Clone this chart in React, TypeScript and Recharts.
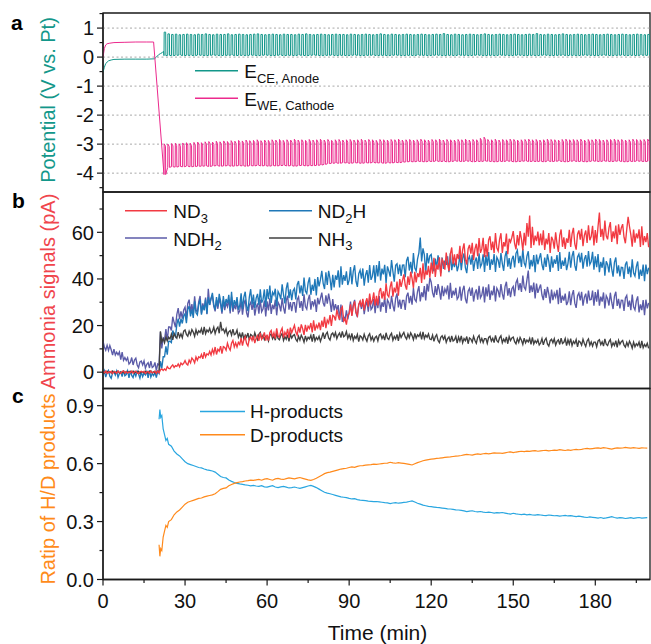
import React from 'react';
import { LineChart, Line, XAxis, YAxis, ReferenceLine, ReferenceArea } from 'recharts';

const FONT = '"Liberation Sans", Arial, Helvetica, sans-serif';
const AXIS = '#1a1a1a';

// ---------- Panel a : potentials ----------
const ecePreT = [0, 0.5, 1, 2, 3, 4, 8, 12, 16, 18.8, 19.5, 20.3, 21, 21.6, 22.1];
const ecePreV = [-0.52, -0.35, -0.22, -0.13, -0.1, -0.08, -0.07, -0.07, -0.07, -0.06, 0.0, 0.08, 0.12, 0.15, 0.2];
const ewePreT = [0, 0.5, 1, 1.5, 2.5, 4, 8, 12, 16, 18.5];
const ewePreV = [0.0, 0.3, 0.42, 0.46, 0.48, 0.5, 0.51, 0.52, 0.52, 0.52];
const cycleStart = 22.3;
const cyclePeriod = 1.36;
const eceHigh = [
  0.86, 0.80, 0.78, 0.79, 0.77, 0.78, 0.79, 0.78, 0.77, 0.79,
  0.78, 0.80, 0.78, 0.77, 0.79, 0.78, 0.78, 0.80, 0.77, 0.78,
  0.79, 0.78, 0.77, 0.78, 0.79, 0.80, 0.78, 0.77, 0.78, 0.79,
  0.78, 0.77, 0.79, 0.78, 0.78, 0.77, 0.79, 0.78, 0.80, 0.78,
  0.77, 0.78, 0.79, 0.78, 0.77, 0.78, 0.79, 0.78, 0.78, 0.77,
  0.79, 0.78, 0.77, 0.78, 0.79, 0.78, 0.77, 0.78, 0.80, 0.78,
  0.77, 0.79, 0.78, 0.77, 0.78, 0.79, 0.78, 0.77, 0.78, 0.79,
  0.78, 0.77, 0.78, 0.79, 0.78, 0.81, 0.78, 0.77, 0.79, 0.78,
  0.77, 0.78, 0.79, 0.78, 0.77, 0.78, 0.80, 0.78, 0.77, 0.78,
  0.79, 0.78, 0.77, 0.78, 0.79, 0.78, 0.77, 0.78, 0.79, 0.78,
  0.81, 0.78, 0.77, 0.79, 0.78, 0.77, 0.78, 0.80, 0.78, 0.77,
  0.78, 0.79, 0.78, 0.77, 0.78, 0.79, 0.78, 0.77, 0.78, 0.79,
  0.78, 0.77, 0.78, 0.79, 0.78, 0.77, 0.78, 0.79, 0.78, 0.77, 0.78,
];
const eceLow = [
  0.05, 0.06, 0.05, 0.06, 0.07, 0.05, 0.06, 0.06, 0.05, 0.07,
  0.06, 0.05, 0.06, 0.07, 0.06, 0.05, 0.06, 0.06, 0.07, 0.05,
  0.06, 0.06, 0.05, 0.07, 0.06, 0.05, 0.06, 0.07, 0.06, 0.05,
  0.06, 0.07, 0.05, 0.06, 0.06, 0.05, 0.07, 0.06, 0.05, 0.06,
  0.07, 0.06, 0.05, 0.06, 0.06, 0.07, 0.05, 0.06, 0.06, 0.05,
  0.06, 0.07, 0.06, 0.05, 0.06, 0.06, 0.07, 0.05, 0.06, 0.06,
  0.05, 0.06, 0.07, 0.06, 0.05, 0.06, 0.06, 0.05, 0.07, 0.06,
  0.06, 0.05, 0.06, 0.07, 0.06, 0.05, 0.06, 0.06, 0.05, 0.07,
  0.06, 0.06, 0.05, 0.06, 0.07, 0.06, 0.05, 0.06, 0.06, 0.05,
  0.07, 0.06, 0.06, 0.05, 0.06, 0.07, 0.06, 0.05, 0.06, 0.06,
  0.05, 0.06, 0.07, 0.06, 0.05, 0.06, 0.06, 0.07, 0.05, 0.06,
  0.06, 0.05, 0.06, 0.07, 0.06, 0.06, 0.05, 0.06, 0.07, 0.06,
  0.05, 0.06, 0.06, 0.07, 0.05, 0.06, 0.06, 0.05, 0.07, 0.06, 0.06,
];
const eweHigh = [
  -2.99, -3.0, -2.98, -2.97, -2.99, -2.96, -2.95, -2.97, -2.94, -2.93,
  -2.95, -2.92, -2.91, -2.93, -2.90, -2.92, -2.89, -2.91, -2.88, -2.90,
  -2.87, -2.89, -2.86, -2.88, -2.87, -2.85, -2.88, -2.86, -2.87, -2.85,
  -2.86, -2.84, -2.87, -2.85, -2.86, -2.83, -2.86, -2.85, -2.87, -2.84,
  -2.86, -2.85, -2.83, -2.86, -2.84, -2.87, -2.85, -2.84, -2.86, -2.85,
  -2.84, -2.86, -2.85, -2.83, -2.86, -2.84, -2.85, -2.87, -2.84, -2.85,
  -2.86, -2.84, -2.85, -2.83, -2.86, -2.85, -2.84, -2.86, -2.85, -2.83,
  -2.85, -2.86, -2.84, -2.85, -2.83, -2.86, -2.84, -2.85, -2.86, -2.84,
  -2.85, -2.83, -2.86, -2.84, -2.85, -2.80, -2.76, -2.84, -2.85, -2.83,
  -2.86, -2.84, -2.85, -2.83, -2.84, -2.86, -2.85, -2.84, -2.83, -2.85,
  -2.84, -2.86, -2.85, -2.83, -2.84, -2.85, -2.86, -2.84, -2.83, -2.85,
  -2.84, -2.85, -2.83, -2.86, -2.84, -2.85, -2.83, -2.84, -2.86, -2.85,
  -2.84, -2.83, -2.85, -2.84, -2.86, -2.85, -2.83, -2.84, -2.85, -2.84, -2.83,
];
const eweLow = [
  -4.05, -3.80, -3.78, -3.79, -3.77, -3.78, -3.76, -3.78, -3.77, -3.76,
  -3.76, -3.75, -3.77, -3.75, -3.74, -3.76, -3.75, -3.74, -3.76, -3.75,
  -3.74, -3.75, -3.76, -3.74, -3.75, -3.73, -3.75, -3.74, -3.76, -3.74,
  -3.75, -3.74, -3.73, -3.75, -3.74, -3.76, -3.74, -3.73, -3.75, -3.74,
  -3.74, -3.73, -3.72, -3.70, -3.67, -3.66, -3.65, -3.66, -3.64, -3.65,
  -3.66, -3.64, -3.65, -3.66, -3.64, -3.65, -3.63, -3.65, -3.64, -3.66,
  -3.64, -3.65, -3.63, -3.64, -3.62, -3.61, -3.60, -3.61, -3.59, -3.60,
  -3.61, -3.59, -3.60, -3.58, -3.60, -3.59, -3.61, -3.60, -3.58, -3.59,
  -3.60, -3.58, -3.59, -3.61, -3.59, -3.60, -3.58, -3.59, -3.60, -3.61,
  -3.59, -3.60, -3.58, -3.59, -3.61, -3.60, -3.59, -3.58, -3.60, -3.59,
  -3.60, -3.59, -3.61, -3.58, -3.60, -3.59, -3.58, -3.60, -3.61, -3.59,
  -3.58, -3.60, -3.59, -3.61, -3.60, -3.58, -3.59, -3.60, -3.58, -3.59,
  -3.60, -3.59, -3.58, -3.60, -3.61, -3.59, -3.60, -3.58, -3.59, -3.60, -3.59,
];
const potTicks = [-4.5, -4, -3.5, -3, -2.5, -2, -1.5, -1, -0.5, 0, 0.5, 1, 1.5];
const potLabels = ['', '-4', '', '-3', '', '-2', '', '-1', '', '0', '', '1', ''];
const potGrid = [-4, -3, -2, -1, 0, 1];

// ---------- Panel b : ammonia signals (one sample every 0.5 min, 20 samples per row = 10 min) ----------
const ampStep = 0.5;
const nd3 = [
  0.4, -0.2, 0.5, -0.5, 0.1, -0.2, 0.4, -0.6, 0.2, 0.1, -0.4, 0.5, -0.1, -0.5, 0.3, 0.6, -0.3, 0.2, -0.4, 0.1,
  -0.2, 0.5, -0.4, 0.2, 0.5, -0.3, -0.6, 0.2, 0.4, -0.1, 0.4, -0.5, 0.1, 0.3, -0.4, 0.5, -0.2, -0.1, 0.5, -0.5,
  0.5, -0.3, 1.0, 1.4, 0.7, 1.4, 0.8, 2.4, 1.6, 1.5, 2.5, 3.1, 2.0, 2.8, 2.5, 3.5, 2.3, 3.9, 3.2, 3.8,
  5.0, 3.6, 3.1, 5.2, 4.0, 6.1, 5.3, 4.0, 6.5, 5.1, 6.6, 6.2, 7.6, 5.7, 8.6, 6.5, 7.9, 7.4, 8.9, 7.4,
  9.8, 8.0, 10.8, 7.6, 9.8, 9.0, 11.2, 8.0, 11.0, 10.6, 9.4, 12.4, 10.6, 9.4, 12.4, 13.6, 10.8, 12.6, 10.8, 12.8,
  11.9, 14.6, 11.4, 14.0, 15.2, 12.3, 11.3, 14.4, 15.1, 13.6, 15.6, 12.5, 14.6, 15.7, 13.4, 16.9, 14.1, 15.0, 17.1, 13.5,
  16.1, 13.5, 17.0, 17.9, 15.0, 16.9, 14.4, 18.8, 15.6, 15.0, 17.6, 18.9, 14.8, 17.1, 15.8, 18.6, 14.7, 19.1, 16.9, 18.5,
  20.1, 17.2, 15.9, 19.4, 17.0, 20.5, 18.7, 16.0, 20.3, 17.4, 19.7, 18.7, 21.1, 17.1, 22.2, 17.8, 20.2, 19.0, 21.3, 18.0,
  22.1, 19.4, 23.7, 18.9, 22.3, 21.1, 24.5, 19.8, 24.4, 23.9, 22.2, 26.8, 24.2, 22.5, 27.0, 28.0, 22.0, 22.9, 20.4, 24.6,
  25.0, 29.1, 24.1, 28.3, 30.4, 25.7, 24.3, 29.1, 30.5, 28.0, 31.5, 26.5, 30.0, 31.7, 28.1, 33.7, 29.4, 30.7, 34.2, 28.5,
  32.8, 28.7, 34.6, 36.1, 31.6, 34.7, 31.0, 38.1, 33.2, 32.3, 36.6, 38.9, 32.4, 36.3, 34.2, 38.9, 32.8, 39.9, 36.6, 39.3,
  42.0, 37.4, 35.4, 41.1, 37.4, 43.1, 40.3, 36.1, 43.1, 38.5, 42.4, 40.8, 44.8, 38.3, 46.7, 39.8, 43.7, 41.7, 45.6, 40.5,
  47.0, 42.3, 49.1, 40.9, 46.2, 44.0, 49.3, 41.1, 48.4, 47.2, 44.0, 51.3, 46.6, 43.4, 50.7, 53.5, 46.3, 50.6, 45.9, 50.7,
  48.5, 54.2, 46.9, 52.6, 55.3, 48.5, 46.2, 52.9, 54.6, 50.8, 55.5, 48.2, 52.9, 55.1, 49.8, 57.5, 51.2, 52.9, 57.6, 49.3,
  55.0, 49.6, 56.7, 58.3, 52.4, 56.0, 51.1, 59.7, 53.3, 51.9, 57.0, 59.6, 51.2, 55.8, 53.9, 59.5, 50.6, 57.2, 55.8, 57.9,
  60.5, 55.1, 52.7, 58.8, 54.4, 60.5, 57.1, 52.2, 59.8, 54.4, 64.0, 58.1, 67.2, 53.3, 62.4, 54.5, 58.6, 56.2, 60.3, 54.4,
  59.5, 54.5, 60.9, 52.4, 57.3, 54.8, 59.7, 51.2, 58.1, 56.6, 53.0, 60.0, 55.1, 51.6, 58.7, 61.2, 53.8, 57.8, 52.9, 57.4,
  55.5, 61.1, 53.7, 59.3, 61.9, 55.0, 52.6, 59.2, 60.8, 56.9, 61.5, 54.1, 58.7, 60.8, 55.4, 63.0, 56.6, 58.2, 62.8, 54.4,
  61.0, 55.5, 62.5, 68.5, 58.0, 61.5, 56.5, 65.0, 58.5, 57.0, 61.9, 64.4, 55.9, 60.4, 57.4, 62.9, 54.9, 63.4, 58.9, 61.9,
  63.5, 57.9, 55.3, 61.2, 66.6, 62.5, 58.9, 53.8, 61.2, 55.6, 59.5, 57.4, 61.3, 53.7, 62.6, 54.5, 58.4, 55.8, 59.7, 53.6,
];
const nd2h = [
  -1.3, 0.6, -2.1, -0.1, 0.8, -1.7, -2.6, -0.3, 0.3, -1.2, 0.5, -2.2, -0.6, 0.1, -1.9, 0.8, -1.5, -1.0, 0.6, -2.4,
  0.6, -1.4, -2.3, -0.1, -1.7, 0.4, -0.8, -2.6, 0.1, -1.9, -0.5, -1.2, 0.3, -2.4, 0.8, -2.1, -0.6, -1.5, -0.1, -2.3,
  0.3, -0.6, 4.7, 1.6, 6.6, 6.6, 11.1, 7.5, 13.2, 13.3, 12.7, 17.9, 16.4, 15.3, 20.5, 23.0, 19.5, 22.9, 20.9, 24.1,
  25.1, 21.0, 26.9, 28.4, 23.9, 27.0, 23.3, 30.4, 25.5, 24.6, 28.9, 31.2, 24.7, 28.6, 26.5, 31.2, 25.1, 32.2, 28.9, 31.6,
  34.0, 29.1, 26.8, 32.2, 28.2, 33.6, 30.5, 26.0, 32.7, 27.8, 31.4, 29.5, 33.2, 26.4, 34.5, 27.3, 30.9, 28.6, 32.2, 26.8,
  28.7, 33.8, 27.1, 32.2, 34.5, 28.4, 26.2, 32.2, 35.6, 29.1, 33.3, 27.6, 31.8, 33.6, 28.8, 35.6, 29.8, 31.2, 35.5, 28.0,
  35.7, 31.3, 37.2, 29.7, 34.3, 33.1, 35.8, 28.2, 34.6, 33.4, 31.3, 37.7, 33.3, 29.5, 35.9, 38.5, 31.8, 35.5, 30.9, 34.9,
  35.9, 31.2, 37.5, 39.1, 33.8, 37.2, 32.7, 40.6, 34.8, 33.7, 38.3, 40.7, 33.2, 37.5, 34.9, 40.0, 32.9, 40.8, 36.8, 39.7,
  43.5, 38.1, 35.7, 42.8, 37.4, 43.5, 40.1, 35.2, 41.8, 36.4, 41.5, 39.6, 43.7, 36.3, 45.4, 37.5, 41.6, 39.2, 43.3, 37.4,
  39.5, 45.1, 37.7, 43.3, 45.9, 39.0, 36.6, 42.2, 43.8, 40.1, 44.5, 37.1, 41.7, 43.8, 38.4, 46.0, 39.6, 41.2, 45.8, 38.4,
  46.0, 41.1, 47.7, 39.3, 44.4, 42.0, 46.1, 38.2, 45.4, 43.4, 41.0, 48.1, 43.2, 38.8, 45.9, 46.5, 42.1, 46.2, 41.3, 45.9,
  46.0, 40.7, 47.8, 49.5, 43.6, 47.3, 42.4, 51.1, 44.7, 43.4, 48.5, 51.2, 57.8, 47.5, 53.1, 50.3, 42.4, 51.1, 46.7, 49.9,
  50.5, 45.6, 43.3, 48.7, 44.7, 50.1, 47.0, 42.5, 49.2, 44.3, 47.9, 46.0, 49.7, 42.9, 51.0, 43.8, 47.4, 45.1, 48.7, 43.3,
  45.6, 50.6, 43.8, 48.8, 51.0, 44.8, 42.5, 48.4, 49.7, 46.1, 50.2, 43.4, 47.5, 49.2, 44.3, 51.0, 45.2, 46.5, 50.6, 43.0,
  50.2, 45.7, 51.5, 43.9, 48.4, 46.1, 50.7, 43.0, 49.3, 48.0, 44.8, 51.1, 46.6, 43.5, 49.7, 52.0, 45.3, 48.9, 44.3, 48.4,
  49.9, 44.9, 51.0, 52.3, 46.8, 49.9, 45.2, 52.8, 46.8, 45.4, 49.8, 51.9, 44.2, 48.2, 45.4, 50.2, 42.9, 50.5, 46.3, 48.9,
  51.0, 46.1, 43.8, 49.2, 45.2, 50.6, 47.5, 43.0, 49.7, 44.8, 48.4, 46.5, 50.2, 43.4, 51.5, 44.3, 47.9, 45.6, 49.2, 43.8,
  46.6, 51.6, 44.8, 49.8, 52.0, 45.8, 43.5, 49.4, 50.7, 47.1, 51.2, 44.4, 48.5, 50.2, 45.3, 52.0, 46.2, 47.5, 51.6, 44.0,
  49.7, 45.0, 50.7, 42.9, 47.3, 44.8, 49.3, 41.4, 47.6, 46.1, 42.8, 48.9, 44.3, 41.0, 47.1, 49.2, 42.4, 45.8, 41.1, 45.0,
  44.9, 40.0, 46.1, 47.5, 42.1, 45.3, 40.7, 48.4, 42.5, 41.2, 45.3, 47.5, 39.9, 44.0, 41.3, 46.2, 39.0, 46.2, 42.1, 44.8,
];
const ndh2 = [
  13.3, 10.8, 9.4, 11.5, 9.3, 11.4, 9.6, 7.3, 9.9, 7.4, 8.6, 7.5, 8.7, 5.4, 8.6, 5.1, 6.3, 5.0, 6.2, 3.5,
  4.2, 6.3, 3.1, 5.2, 6.0, 3.1, 1.9, 4.4, 4.8, 3.1, 4.8, 1.7, 3.4, 4.1, 1.8, 4.7, 2.0, 2.5, 4.2, 0.7,
  3.5, 3.0, 17.2, 10.2, 14.7, 13.9, 18.5, 13.5, 19.4, 19.4, 17.9, 23.8, 21.3, 19.3, 24.8, 27.5, 22.7, 26.1, 23.0, 26.7,
  27.9, 23.2, 29.5, 31.1, 25.8, 29.2, 24.7, 32.6, 26.8, 25.7, 30.3, 32.7, 25.2, 29.5, 26.9, 32.0, 24.9, 35.8, 28.8, 31.7,
  32.6, 28.2, 26.1, 30.9, 27.2, 31.8, 29.1, 25.1, 31.0, 26.6, 29.7, 28.1, 31.2, 25.2, 32.3, 25.9, 29.0, 27.0, 30.2, 25.3,
  26.3, 30.7, 24.7, 29.1, 31.1, 25.5, 23.5, 28.7, 29.9, 26.7, 30.3, 24.3, 27.9, 29.5, 25.1, 31.1, 25.9, 27.1, 30.7, 23.9,
  30.4, 26.5, 31.7, 25.0, 29.0, 27.0, 31.1, 24.4, 30.0, 28.8, 26.1, 31.8, 27.7, 25.1, 30.7, 32.8, 26.8, 30.1, 26.2, 29.8,
  29.8, 25.5, 31.1, 32.3, 27.6, 30.5, 26.3, 33.4, 28.2, 27.1, 31.1, 33.2, 26.8, 30.5, 28.7, 31.2, 25.8, 31.9, 29.1, 31.6,
  34.1, 29.7, 28.2, 33.0, 29.4, 33.7, 30.4, 25.9, 31.4, 26.5, 29.2, 26.6, 28.8, 22.3, 29.0, 21.6, 23.8, 22.3, 26.5, 22.7,
  25.8, 30.3, 24.4, 28.9, 31.0, 25.5, 23.6, 28.9, 30.2, 27.1, 30.8, 24.9, 28.6, 30.3, 26.0, 32.1, 26.9, 27.8, 31.5, 25.3,
  31.4, 27.5, 32.7, 26.0, 30.0, 28.0, 32.1, 25.4, 31.0, 29.8, 27.1, 32.8, 28.7, 26.1, 31.7, 33.8, 27.8, 31.1, 27.2, 30.8,
  30.8, 26.7, 32.6, 34.1, 29.6, 32.7, 29.0, 36.1, 31.2, 30.3, 34.6, 36.9, 30.4, 34.3, 32.2, 36.9, 30.8, 37.9, 34.6, 40.5,
  38.6, 34.1, 32.1, 36.9, 33.2, 37.8, 35.1, 31.1, 37.0, 32.6, 35.7, 34.1, 37.2, 31.2, 38.3, 31.9, 35.0, 33.0, 36.2, 31.3,
  32.3, 36.7, 30.7, 35.1, 37.1, 31.5, 29.5, 34.7, 35.9, 32.7, 36.3, 30.3, 33.9, 35.5, 31.1, 37.1, 31.9, 33.1, 36.7, 29.9,
  36.4, 32.5, 37.7, 31.0, 35.0, 33.0, 37.1, 30.4, 36.0, 34.8, 32.1, 37.8, 33.7, 31.1, 36.7, 38.8, 32.8, 36.1, 32.2, 35.8,
  36.8, 32.6, 38.4, 39.8, 35.2, 38.2, 34.4, 41.4, 36.4, 35.4, 39.6, 43.6, 34.0, 37.2, 34.4, 38.4, 31.6, 38.0, 34.0, 36.0,
  37.6, 33.1, 30.9, 35.6, 31.9, 36.6, 33.6, 29.5, 35.4, 30.9, 33.9, 32.2, 35.3, 29.2, 36.2, 29.7, 32.8, 30.7, 33.7, 28.8,
  30.3, 34.7, 28.7, 33.1, 35.2, 29.6, 27.6, 32.8, 34.0, 30.8, 34.5, 28.5, 32.1, 33.7, 29.4, 35.0, 31.0, 31.2, 35.0, 28.5,
  34.4, 30.3, 35.4, 28.5, 32.4, 30.3, 34.2, 27.3, 32.8, 31.5, 28.6, 34.1, 30.0, 27.1, 32.6, 34.5, 28.4, 31.5, 27.4, 30.9,
  30.8, 26.3, 31.8, 32.9, 28.0, 30.7, 26.6, 33.3, 28.0, 26.7, 30.6, 32.5, 25.6, 29.1, 26.6, 30.9, 24.4, 31.1, 27.4, 29.7,
];
const nh3 = [
  0.1, -0.45, 0.25, 0.4, -0.2, 0.15, -0.35, 0.5, -0.15, -0.3, 0.2, 0.45, -0.4, 0.05, -0.25, 0.3, -0.5, 0.35, -0.1, 0.2,
  0.3, -0.2, 0.45, -0.4, 0.1, -0.15, 0.35, -0.5, 0.2, 0.05, -0.3, 0.4, -0.1, -0.45, 0.25, 0.5, -0.25, 0.15, -0.35, 0.1,
  0.2, 0.5, 17.5, 13.0, 14.4, 12.6, 15.2, 13.4, 15.0, 14.2, 16.3, 13.9, 16.6, 15.4, 14.6, 17.2, 15.0, 16.4, 14.8, 17.6,
  18.1, 16.2, 15.4, 17.6, 16.1, 18.3, 17.2, 15.4, 18.2, 16.3, 17.8, 17.1, 18.7, 16.1, 19.4, 16.5, 18.1, 17.3, 18.8, 16.7,
  17.5, 19.3, 16.6, 18.5, 19.3, 16.7, 21.6, 18.0, 18.5, 16.9, 18.6, 15.8, 17.3, 17.9, 15.9, 18.5, 16.1, 16.5, 18.1, 15.0,
  16.6, 14.8, 17.1, 14.1, 15.9, 15.0, 16.8, 13.7, 16.2, 15.7, 14.4, 16.9, 15.1, 13.9, 16.3, 17.1, 14.4, 15.8, 14.0, 15.4,
  15.4, 13.4, 15.9, 16.4, 14.3, 15.5, 13.7, 16.8, 14.5, 13.9, 15.7, 16.6, 13.6, 15.2, 14.1, 16.1, 13.2, 16.3, 14.6, 15.7,
  16.1, 14.1, 13.2, 15.4, 13.8, 15.9, 14.7, 12.9, 15.6, 13.6, 15.0, 14.3, 15.8, 13.1, 16.3, 13.4, 14.9, 14.0, 15.4, 13.2,
  15.0, 17.0, 14.3, 16.3, 17.2, 14.7, 13.8, 16.2, 16.8, 15.3, 17.0, 14.4, 15.9, 16.8, 14.8, 17.5, 15.2, 15.7, 17.4, 14.5,
  16.1, 14.3, 16.6, 13.6, 15.4, 14.5, 16.2, 13.1, 15.6, 15.1, 13.8, 16.3, 14.5, 13.3, 15.6, 16.5, 13.8, 15.2, 13.3, 14.9,
  15.4, 13.4, 15.9, 16.4, 14.4, 15.6, 13.8, 16.9, 14.6, 14.0, 15.8, 16.7, 13.7, 15.3, 14.2, 16.2, 13.4, 16.6, 14.9, 16.1,
  17.1, 15.1, 14.2, 16.4, 14.8, 16.9, 15.7, 13.9, 16.6, 14.6, 16.0, 15.3, 16.8, 14.1, 17.3, 14.4, 15.9, 15.0, 16.4, 14.2,
  14.0, 15.9, 13.2, 15.2, 16.1, 13.6, 12.7, 15.0, 15.6, 14.1, 15.5, 12.8, 14.4, 15.1, 12.9, 15.6, 13.4, 13.9, 15.4, 12.5,
  15.1, 13.3, 15.6, 12.6, 14.4, 13.5, 15.3, 12.2, 14.7, 14.2, 12.9, 15.4, 13.6, 12.4, 14.9, 15.8, 13.1, 14.5, 12.7, 14.4,
  14.4, 12.4, 14.9, 15.4, 13.3, 14.5, 12.7, 15.8, 13.5, 12.9, 14.7, 15.6, 12.6, 14.2, 13.1, 15.1, 12.2, 15.3, 13.6, 14.7,
  15.1, 13.1, 12.2, 14.4, 12.8, 14.9, 13.7, 11.9, 14.6, 12.6, 13.8, 13.0, 14.5, 11.9, 14.9, 12.1, 13.5, 12.6, 13.9, 11.7,
  12.5, 14.4, 11.7, 13.7, 14.6, 12.1, 11.2, 13.5, 14.1, 12.6, 14.3, 11.6, 13.2, 13.9, 11.9, 14.6, 12.3, 12.8, 14.4, 11.4,
  13.9, 12.1, 14.4, 11.4, 13.2, 12.3, 14.0, 10.9, 13.4, 12.9, 11.6, 14.1, 12.3, 11.0, 13.4, 14.3, 11.6, 13.0, 11.2, 12.9,
  12.9, 10.9, 13.4, 13.9, 11.8, 13.0, 11.2, 14.3, 12.0, 11.4, 13.1, 14.0, 11.0, 12.6, 11.5, 13.5, 10.6, 13.7, 12.0, 13.1,
  13.6, 11.6, 10.7, 12.8, 11.2, 13.3, 12.1, 10.3, 12.9, 10.9, 12.2, 11.4, 12.9, 10.3, 13.4, 10.5, 11.9, 11.0, 12.4, 10.2,
];
const ampTicks = [0, 10, 20, 30, 40, 50, 60, 70];
const ampLabels = ['0', '', '20', '', '40', '', '60', ''];

// ---------- Panel c : H/D ratio ----------
const hdEarlyT = [20.5, 20.8, 21.1, 21.5, 22, 22.5, 23, 23.5, 24];
const hdLateStart = 25; // then one sample per minute up to 199
const hProducts = [
  0.83, 0.88, 0.84, 0.85, 0.78, 0.75, 0.72, 0.73, 0.70,
  0.69, 0.665, 0.65, 0.64, 0.625, 0.61, 0.60, 0.595, 0.59, 0.585,
  0.58, 0.578, 0.572, 0.568, 0.565, 0.562, 0.556, 0.545, 0.533, 0.528,
  0.526, 0.515, 0.508, 0.502, 0.498, 0.495, 0.493, 0.49, 0.488, 0.485,
  0.487, 0.484, 0.482, 0.486, 0.48, 0.478, 0.482, 0.486, 0.479, 0.476,
  0.48, 0.482, 0.478, 0.474, 0.476, 0.479, 0.475, 0.472, 0.476, 0.48,
  0.484, 0.487, 0.482, 0.476, 0.468, 0.46, 0.452, 0.447, 0.444, 0.44,
  0.436, 0.432, 0.428, 0.426, 0.424, 0.42, 0.417, 0.419, 0.414, 0.411,
  0.41, 0.408, 0.406, 0.405, 0.403, 0.404, 0.402, 0.4, 0.398, 0.397,
  0.393, 0.396, 0.398, 0.395, 0.397, 0.399, 0.401, 0.404, 0.407, 0.401,
  0.395, 0.39, 0.385, 0.382, 0.379, 0.377, 0.375, 0.373, 0.372, 0.37,
  0.368, 0.366, 0.365, 0.363, 0.361, 0.36, 0.358, 0.355, 0.352, 0.354,
  0.356, 0.352, 0.35, 0.352, 0.349, 0.347, 0.349, 0.347, 0.344, 0.346,
  0.345, 0.347, 0.344, 0.341, 0.339, 0.343, 0.34, 0.338, 0.336, 0.338,
  0.335, 0.337, 0.334, 0.333, 0.336, 0.334, 0.332, 0.331, 0.334, 0.332,
  0.33, 0.331, 0.328, 0.33, 0.332, 0.329, 0.331, 0.328, 0.326, 0.328,
  0.326, 0.323, 0.321, 0.324, 0.322, 0.32, 0.318, 0.321, 0.317, 0.319,
  0.322, 0.325, 0.321, 0.318, 0.32, 0.319, 0.316, 0.318, 0.32, 0.317,
  0.319, 0.321, 0.318, 0.319, 0.32,
];
const dProducts = [
  0.18, 0.12, 0.16, 0.15, 0.22, 0.25, 0.28, 0.27, 0.30,
  0.31, 0.335, 0.35, 0.36, 0.375, 0.39, 0.40, 0.405, 0.41, 0.415,
  0.42, 0.422, 0.428, 0.432, 0.435, 0.438, 0.444, 0.455, 0.467, 0.472,
  0.474, 0.485, 0.492, 0.498, 0.502, 0.505, 0.507, 0.51, 0.512, 0.515,
  0.513, 0.516, 0.518, 0.514, 0.52, 0.522, 0.518, 0.514, 0.521, 0.524,
  0.52, 0.518, 0.522, 0.526, 0.524, 0.521, 0.525, 0.528, 0.524, 0.52,
  0.516, 0.513, 0.518, 0.524, 0.532, 0.54, 0.548, 0.553, 0.556, 0.56,
  0.564, 0.568, 0.572, 0.574, 0.576, 0.58, 0.583, 0.581, 0.586, 0.589,
  0.59, 0.592, 0.594, 0.595, 0.597, 0.596, 0.598, 0.6, 0.602, 0.603,
  0.607, 0.604, 0.602, 0.605, 0.603, 0.601, 0.599, 0.596, 0.593, 0.599,
  0.605, 0.61, 0.615, 0.618, 0.621, 0.623, 0.625, 0.627, 0.628, 0.63,
  0.632, 0.634, 0.635, 0.637, 0.639, 0.64, 0.642, 0.645, 0.648, 0.646,
  0.644, 0.648, 0.65, 0.648, 0.651, 0.653, 0.651, 0.653, 0.656, 0.654,
  0.655, 0.653, 0.656, 0.659, 0.661, 0.657, 0.66, 0.662, 0.664, 0.662,
  0.665, 0.663, 0.666, 0.667, 0.664, 0.666, 0.668, 0.669, 0.666, 0.668,
  0.67, 0.669, 0.672, 0.67, 0.668, 0.671, 0.669, 0.672, 0.674, 0.672,
  0.674, 0.677, 0.679, 0.676, 0.678, 0.68, 0.682, 0.679, 0.683, 0.681,
  0.678, 0.675, 0.679, 0.682, 0.68, 0.681, 0.684, 0.682, 0.68, 0.683,
  0.681, 0.679, 0.682, 0.681, 0.68,
];
const ratioTicks = [0, 0.15, 0.3, 0.45, 0.6, 0.75, 0.9];
const ratioLabels = ['0.0', '', '0.3', '', '0.6', '', '0.9'];
const timeTicks = [0, 15, 30, 45, 60, 75, 90, 105, 120, 135, 150, 165, 180, 195];
const timeLabels = ['0', '', '30', '', '60', '', '90', '', '120', '', '150', '', '180', ''];

// ---------- build series tables ----------
type Pt = { t: number; v: number };
const eceData: Pt[] = ecePreT.map((t, i) => ({ t, v: ecePreV[i] }));
eceHigh.forEach((hi, i) => {
  const t0 = cycleStart + i * cyclePeriod;
  const lo = eceLow[i];
  eceData.push({ t: t0, v: lo }, { t: t0 + 0.07, v: hi }, { t: t0 + 0.62, v: hi }, { t: t0 + 0.69, v: lo });
});
const eweData: Pt[] = ewePreT.map((t, i) => ({ t, v: ewePreV[i] }));
eweHigh.forEach((hi, i) => {
  const t0 = cycleStart + i * cyclePeriod;
  const lo = eweLow[i];
  eweData.push({ t: t0, v: lo }, { t: t0 + 0.07, v: hi }, { t: t0 + 0.55, v: hi - 0.08 }, { t: t0 + 0.62, v: lo });
});
const ampData = nd3.map((v, i) => ({ t: i * ampStep, nd3: v, nd2h: nd2h[i], ndh2: ndh2[i], nh3: nh3[i] }));
const hdTimes = hProducts.map((_, i) => (i < hdEarlyT.length ? hdEarlyT[i] : hdLateStart + i - hdEarlyT.length));
const hdData = hdTimes.map((t, i) => ({ t, h: hProducts[i], d: dProducts[i] }));

// ---------- ticks ----------
const makeYTick = (ticks: number[], labels: string[]) => (props: any) => {
  const { x, y, payload } = props;
  const idx = ticks.findIndex((t) => Math.abs(t - payload.value) < 1e-9);
  const label = idx >= 0 ? labels[idx] : '';
  const major = label !== '';
  return (
    <g>
      <line x1={x} x2={x - (major ? 6 : 3.5)} y1={y} y2={y} stroke={AXIS} strokeWidth={1.2} />
      {major && (
        <text x={x - 9} y={y + 7.2} textAnchor="end" fontSize={20} fontFamily={FONT} fill="#111">
          {label}
        </text>
      )}
    </g>
  );
};
const XTick = (props: any) => {
  const { x, y, payload } = props;
  const idx = timeTicks.findIndex((t) => Math.abs(t - payload.value) < 1e-9);
  const label = idx >= 0 ? timeLabels[idx] : '';
  const major = label !== '';
  return (
    <g>
      <line x1={x} x2={x} y1={y} y2={y + (major ? 6 : 3.5)} stroke={AXIS} strokeWidth={1.2} />
      {major && (
        <text x={x} y={y + 28} textAnchor="middle" fontSize={20} fontFamily={FONT} fill="#111">
          {label}
        </text>
      )}
    </g>
  );
};

const C = {
  ce: '#13978a',
  we: '#ec2a8d',
  nd3: '#f23a42',
  nd2h: '#1f78b8',
  ndh2: '#5b5ba8',
  nh3: '#404040',
  h: '#29a6e0',
  d: '#ff8a1c',
  ampTitle: '#f0454c',
  ratioTitle: '#ff8b1a',
};

const W = 651;
const H = 644;
const YW = 103;
const potDomain: [number, number] = [-4.65, 1.52];
const ampDomain: [number, number] = [-7, 77.3];
const ratioDomain: [number, number] = [0, 0.989];

const LegendLine = ({ x1, x2, y, color }: { x1: number; x2: number; y: number; color: string }) => (
  <line x1={x1} x2={x2} y1={y} y2={y} stroke={color} strokeWidth={1.6} />
);

export default function App() {
  const abs: React.CSSProperties = { position: 'absolute', left: 0, top: 0 };
  return (
    <div style={{ position: 'absolute', left: 0, top: 0, width: W, height: H, background: '#fff', overflow: 'hidden' }}>
      {/* Panel a */}
      <div style={abs}>
        <LineChart width={W} height={H} margin={{ top: 13, right: 1, bottom: H - 192, left: 0 }}>
          <XAxis type="number" dataKey="t" domain={[0, 200]} allowDataOverflow hide />
          <YAxis
            type="number"
            width={YW}
            domain={potDomain}
            allowDataOverflow
            ticks={potTicks}
            interval={0}
            tickSize={0}
            tickMargin={0}
            tickLine={false}
            axisLine={{ stroke: AXIS, strokeWidth: 1.3 }}
            tick={makeYTick(potTicks, potLabels)}
          />
          {potGrid.map((g) => (
            <ReferenceLine key={g} y={g} stroke="#a8a8a8" strokeWidth={1} strokeDasharray="2 2.5" />
          ))}
          <Line data={eceData} dataKey="v" type="linear" stroke={C.ce} strokeWidth={1.0} dot={false} isAnimationActive={false} />
          <Line data={eweData} dataKey="v" type="linear" stroke={C.we} strokeWidth={1.0} dot={false} isAnimationActive={false} />
          <ReferenceArea x1={0} x2={200} y1={potDomain[0]} y2={potDomain[1]} fill="none" stroke={AXIS} strokeWidth={1.3} />
        </LineChart>
      </div>

      {/* Panel b */}
      <div style={abs}>
        <LineChart data={ampData} width={W} height={H} margin={{ top: 192, right: 1, bottom: H - 388.5, left: 0 }}>
          <XAxis type="number" dataKey="t" domain={[0, 200]} allowDataOverflow hide />
          <YAxis
            type="number"
            width={YW}
            domain={ampDomain}
            allowDataOverflow
            ticks={ampTicks}
            interval={0}
            tickSize={0}
            tickMargin={0}
            tickLine={false}
            axisLine={{ stroke: AXIS, strokeWidth: 1.3 }}
            tick={makeYTick(ampTicks, ampLabels)}
          />
          <Line dataKey="ndh2" type="linear" stroke={C.ndh2} strokeWidth={1.35} dot={false} isAnimationActive={false} />
          <Line dataKey="nd2h" type="linear" stroke={C.nd2h} strokeWidth={1.35} dot={false} isAnimationActive={false} />
          <Line dataKey="nh3" type="linear" stroke={C.nh3} strokeWidth={1.35} dot={false} isAnimationActive={false} />
          <Line dataKey="nd3" type="linear" stroke={C.nd3} strokeWidth={1.35} dot={false} isAnimationActive={false} />
          <ReferenceArea x1={0} x2={200} y1={ampDomain[0]} y2={ampDomain[1]} fill="none" stroke={AXIS} strokeWidth={1.3} />
        </LineChart>
      </div>

      {/* Panel c */}
      <div style={abs}>
        <LineChart data={hdData} width={W} height={H} margin={{ top: 388.5, right: 1, bottom: 0, left: 0 }}>
          <XAxis
            type="number"
            dataKey="t"
            domain={[0, 200]}
            allowDataOverflow
            height={H - 579.5}
            ticks={timeTicks}
            interval={0}
            tickSize={0}
            tickMargin={0}
            tickLine={false}
            axisLine={{ stroke: AXIS, strokeWidth: 1.3 }}
            tick={XTick}
          />
          <YAxis
            type="number"
            width={YW}
            domain={ratioDomain}
            allowDataOverflow
            ticks={ratioTicks}
            interval={0}
            tickSize={0}
            tickMargin={0}
            tickLine={false}
            axisLine={{ stroke: AXIS, strokeWidth: 1.3 }}
            tick={makeYTick(ratioTicks, ratioLabels)}
          />
          <Line dataKey="h" type="linear" stroke={C.h} strokeWidth={1.2} dot={false} isAnimationActive={false} />
          <Line dataKey="d" type="linear" stroke={C.d} strokeWidth={1.2} dot={false} isAnimationActive={false} />
          <ReferenceArea x1={0} x2={200} y1={ratioDomain[0]} y2={ratioDomain[1]} fill="none" stroke={AXIS} strokeWidth={1.3} />
        </LineChart>
      </div>

      {/* Text overlay: panel letters, axis titles, legends */}
      <svg width={W} height={H} style={{ ...abs, pointerEvents: 'none' }} fontFamily={FONT}>
        <text x={11} y={30} fontSize={21} fontWeight="bold" fill="#000">a</text>
        <text x={12} y={208} fontSize={21} fontWeight="bold" fill="#000">b</text>
        <text x={12} y={403} fontSize={21} fontWeight="bold" fill="#000">c</text>

        <text x={54.5} y={100} transform="rotate(-90 54.5 100)" textAnchor="middle" fontSize={20} fill={C.ce}>
          Potential (V vs. Pt)
        </text>
        <text x={54.5} y={291.5} transform="rotate(-90 54.5 291.5)" textAnchor="middle" fontSize={20} fill={C.ampTitle}>
          Ammonia signals (pA)
        </text>
        <text x={54.5} y={489} transform="rotate(-90 54.5 489)" textAnchor="middle" fontSize={20} fill={C.ratioTitle}>
          Ratip of H/D products
        </text>
        <text x={377.5} y={640} textAnchor="middle" fontSize={21} fill="#111">
          Time (min)
        </text>

        {/* legend a */}
        <LegendLine x1={195} x2={238} y={70.7} color={C.ce} />
        <text x={244.3} y={78.3} fill="#111">
          <tspan fontSize={19}>E</tspan>
          <tspan fontSize={13} dy={4.4}>CE, Anode</tspan>
        </text>
        <LegendLine x1={195} x2={238} y={98.3} color={C.we} />
        <text x={244.3} y={105.7} fill="#111">
          <tspan fontSize={19}>E</tspan>
          <tspan fontSize={13} dy={4.4}>WE, Cathode</tspan>
        </text>

        {/* legend b */}
        <LegendLine x1={125} x2={167} y={210.7} color={C.nd3} />
        <text x={173.3} y={218.3} fill="#111">
          <tspan fontSize={19}>ND</tspan>
          <tspan fontSize={13} dy={4.4}>3</tspan>
        </text>
        <LegendLine x1={125} x2={167} y={238} color={C.ndh2} />
        <text x={173.3} y={245.6} fill="#111">
          <tspan fontSize={19}>NDH</tspan>
          <tspan fontSize={13} dy={4.4}>2</tspan>
        </text>
        <LegendLine x1={269} x2={312} y={210.7} color={C.nd2h} />
        <text x={317.7} y={218.3} fill="#111">
          <tspan fontSize={19}>ND</tspan>
          <tspan fontSize={13} dy={4.4}>2</tspan>
          <tspan fontSize={19} dy={-4.4}>H</tspan>
        </text>
        <LegendLine x1={269} x2={312} y={238} color={C.nh3} />
        <text x={317.7} y={245.6} fill="#111">
          <tspan fontSize={19}>NH</tspan>
          <tspan fontSize={13} dy={4.4}>3</tspan>
        </text>

        {/* legend c */}
        <LegendLine x1={200} x2={245} y={411.5} color={C.h} />
        <text x={250} y={418.3} fontSize={19} fill="#111">H-products</text>
        <LegendLine x1={200} x2={245} y={434.8} color={C.d} />
        <text x={250} y={441.6} fontSize={19} fill="#111">D-products</text>
      </svg>
    </div>
  );
}
